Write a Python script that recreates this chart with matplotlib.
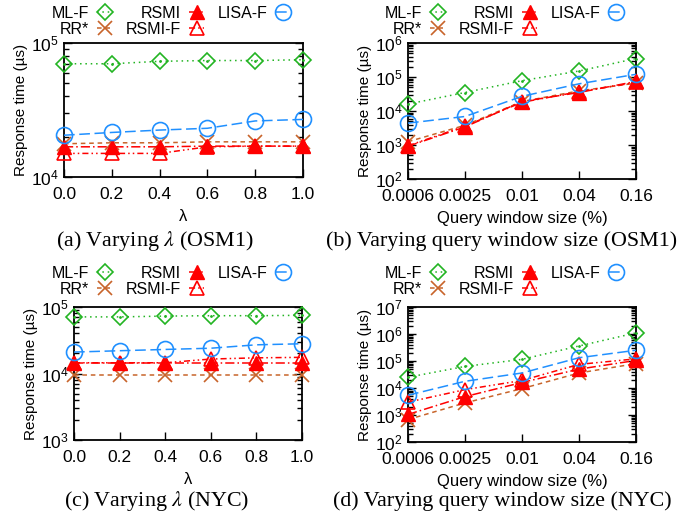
import matplotlib
matplotlib.use('Agg')
import matplotlib.pyplot as plt
from matplotlib.lines import Line2D
from matplotlib.ticker import LogLocator, NullFormatter
import numpy as np

plt.rcParams['font.family'] = ['Liberation Sans', 'DejaVu Sans']

# ---------------- data ----------------
lam = [0.0, 0.2, 0.4, 0.6, 0.8, 1.0]
win_labels = ['0.0006', '0.0025', '0.01', '0.04', '0.16']

# (a) OSM1, varying lambda
a_mlf = [7.0e4, 7.0e4, 7.3e4, 7.4e4, 7.4e4, 7.5e4]
a_rr = [1.77e4, 1.80e4, 1.80e4, 1.83e4, 1.83e4, 1.83e4]
a_rsmi = [1.68e4, 1.68e4, 1.68e4, 1.70e4, 1.70e4, 1.70e4]
a_rsmif = [1.50e4, 1.50e4, 1.50e4, 1.68e4, 1.70e4, 1.70e4]
a_lisa = [2.05e4, 2.15e4, 2.24e4, 2.31e4, 2.62e4, 2.69e4]

# (b) OSM1, varying window size
b_mlf = [1.6e4, 3.5e4, 7.8e4, 1.5e5, 3.5e5]
b_rr = [1.25e3, 3.8e3, 1.9e4, 3.9e4, 6.6e4]
b_rsmi = [9.2e2, 3.4e3, 1.9e4, 3.5e4, 7.4e4]
b_rsmif = [9.5e2, 3.6e3, 1.8e4, 3.7e4, 6.9e4]
b_lisa = [4.4e3, 6.9e3, 2.7e4, 6.3e4, 1.2e5]

# (c) NYC, varying lambda
c_mlf = [7.1e4, 7.1e4, 7.3e4, 7.4e4, 7.4e4, 7.5e4]
c_rr = [9.5e3, 9.5e3, 9.5e3, 9.5e3, 9.5e3, 9.5e3]
c_rsmi = [1.45e4, 1.45e4, 1.45e4, 1.45e4, 1.45e4, 1.45e4]
c_rsmif = [1.45e4, 1.45e4, 1.45e4, 1.65e4, 1.72e4, 1.75e4]
c_lisa = [2.1e4, 2.2e4, 2.3e4, 2.4e4, 2.7e4, 2.8e4]

# (d) NYC, varying window size
d_mlf = [2.5e4, 6.3e4, 1.15e5, 3.6e5, 1.1e6]
d_rr = [6.8e2, 2.8e3, 9.5e3, 3.6e4, 8.0e4]
d_rsmi = [1.05e3, 4.8e3, 1.6e4, 5.0e4, 1.05e5]
d_rsmif = [3.0e3, 8.7e3, 1.9e4, 7.5e4, 1.2e5]
d_lisa = [5.4e3, 1.77e4, 3.6e4, 1.32e5, 2.5e5]

names = ['ML-F', 'RR*', 'RSMI', 'RSMI-F', 'LISA-F']

GREEN = '#22b422'
BROWN = '#c8642a'
RED = '#ff0000'
BLUE = '#2090ff'

styles = {
    'ML-F': dict(color=GREEN, ls=(0, (1, 2.5)), marker='D', ms=8, mfc='none', mew=1.2),
    'RR*': dict(color=BROWN, ls=(0, (3, 2.5)), marker='x', ms=10.5, mew=1.2),
    'RSMI': dict(color=RED, ls=(0, (6, 2, 1, 2)), marker='^', ms=10.5, mfc=RED, mew=1.0),
    'RSMI-F': dict(color=RED, ls=(0, (4, 2, 1, 2, 1, 2)), marker='^', ms=10.5, mfc='none', mew=1.2),
    'LISA-F': dict(color=BLUE, ls=(0, (7, 3)), marker='o', ms=11.5, mfc='none', mew=1.2),
}

W, H = 700, 519
fig = plt.figure(figsize=(W / 100, H / 100), dpi=100)


def px_axes(l, t, r, b):
    return fig.add_axes([l / W, 1 - b / H, (r - l) / W, (b - t) / H])


def draw(ax, x, series, ylim, xticklabels, xlabel, legend_left_px, legend_top_px):
    for name, y in zip(names, series):
        st = dict(styles[name])
        ax.plot(x, y, lw=1.1, label=name, clip_on=False, zorder=3, **st)
        if name == 'ML-F':
            ax.plot(x, y, ls='none', marker='.', ms=2, color=GREEN, clip_on=False, zorder=4)
    ax.set_yscale('log')
    ax.set_ylim(*ylim)
    ax.set_xlim(x[0], x[-1])
    ax.set_xticks(x)
    ax.set_xticklabels(xticklabels)
    ax.yaxis.set_major_locator(LogLocator(base=10, numticks=20))
    ax.yaxis.set_minor_locator(LogLocator(base=10, subs=np.arange(2, 10), numticks=20))
    ax.yaxis.set_minor_formatter(NullFormatter())
    ax.tick_params(which='both', direction='in', right=True, top=False, labelsize=12.5, width=1.0)
    ax.tick_params(which='major', length=6)
    ax.tick_params(axis='x', which='major', pad=7)
    ax.tick_params(axis='y', which='major', pad=4)
    ax.tick_params(which='minor', length=3.5)
    for s in ax.spines.values():
        s.set_linewidth(1.3)
    ax.set_ylabel('Response time (µs)', fontsize=11, labelpad=2)
    ax.set_xlabel(xlabel, fontsize=12, labelpad=5)
    handles = []
    for name in names:
        st = dict(styles[name])
        handles.append(Line2D([], [], lw=1.1, **st))
    ax.legend(handles, names, ncol=3, markerfirst=False, loc='upper left',
              bbox_to_anchor=(legend_left_px / W, 1 - legend_top_px / H),
              bbox_transform=fig.transFigure, frameon=False, fontsize=11.5,
              handlelength=0.9, handletextpad=0.5, columnspacing=0.9,
              labelspacing=0.05, borderpad=0.0, borderaxespad=0.0)
    return ax


axa = px_axes(64, 43, 303, 177)
draw(axa, lam, [a_mlf, a_rr, a_rsmi, a_rsmif, a_lisa], (1e4, 1e5),
     [f'{v:.1f}' for v in lam], 'λ', 52, 6)

xw = np.arange(len(win_labels))
axb = px_axes(408, 43, 636, 179)
draw(axb, xw, [b_mlf, b_rr, b_rsmi, b_rsmif, b_lisa], (1e2, 1e6),
     win_labels, 'Query window size (%)', 385, 6)

axc = px_axes(74, 307, 302, 440)
draw(axc, lam, [c_mlf, c_rr, c_rsmi, c_rsmif, c_lisa], (1e3, 1e5),
     [f'{v:.1f}' for v in lam], 'λ', 52, 266)

axd = px_axes(408, 307, 636, 442)
draw(axd, xw, [d_mlf, d_rr, d_rsmi, d_rsmif, d_lisa], (1e2, 1e7),
     win_labels, 'Query window size (%)', 385, 266)

cap_kw = dict(ha='center', va='center', fontsize=15.8, family='Liberation Serif', math_fontfamily='stix')
fig.text(155 / W, 1 - 241 / H, r'(a) Varying $\lambda$ (OSM1)', **cap_kw)
fig.text(502 / W, 1 - 241 / H, '(b) Varying query window size (OSM1)', **cap_kw)
fig.text(157 / W, 1 - 501 / H, r'(c) Varying $\lambda$ (NYC)', **cap_kw)
fig.text(502 / W, 1 - 501 / H, '(d) Varying query window size (NYC)', **cap_kw)

fig.savefig('out.png', dpi=100)
